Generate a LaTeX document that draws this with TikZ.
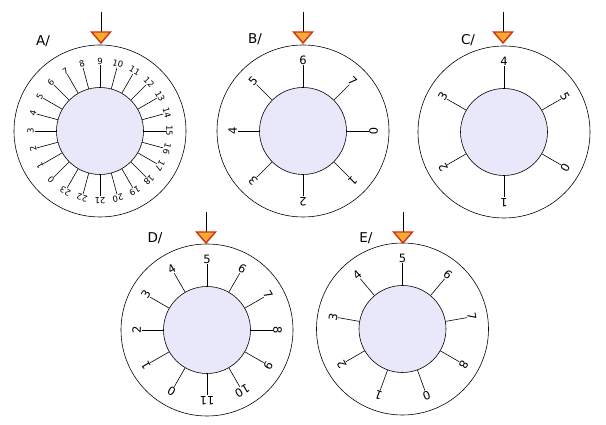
\documentclass[tikz,border=0pt]{standalone}
\usepackage{fontspec}
\setmainfont{DejaVu Sans}
\begin{document}
\begin{tikzpicture}[x=1pt,y=1pt,
  outerc/.style={draw=black,line width=0.6pt},
  innerc/.style={draw=black,line width=0.6pt,fill=lav},
  tick/.style={draw=black,line width=0.6pt},
  lbl/.style={anchor=south,inner sep=0.5pt},
  ttl/.style={font=\fontsize{13.5}{13.5}\selectfont},
  arrowtri/.style={draw=arrred,line width=1.4pt,fill=arrorange,line join=miter}]
\definecolor{lav}{RGB}{232,232,250}
\definecolor{arrred}{RGB}{204,52,18}
\definecolor{arrorange}{RGB}{249,170,50}
\useasboundingbox (0,0) rectangle (606,425);
% #1 cx, #2 cy, #3 n, #4 top label, #5 font size, #6 name
\newcommand\mydial[6]{%
  \node[circle,outerc,minimum size=172pt,inner sep=0pt] (#6o) at (#1,#2) {};
  \foreach \i in {0,...,\numexpr#3-1\relax}{
    \pgfmathsetmacro\ang{90-(\i-#4)*360/#3}
    \draw[tick] (#1,#2) ++(\ang:43.5) -- ++(\ang:22) coordinate (#6t\i);
    \node[lbl,rotate=\ang-90,font=\fontsize{#5}{#5}\selectfont] (#6l\i) at (#6t\i) {\i};
  }
  \node[circle,innerc,minimum size=87pt,inner sep=0pt] (#6i) at (#1,#2) {};
}
\newcommand\myarrow[3]{%
  \coordinate (#3s) at (#1,#2);
  \coordinate (#3b) at (#1,#2-20);
  \draw[line width=0.7pt] (#3s) -- (#3b);
  \draw[arrowtri] (#1-9.5,#2-20) -- (#1+9.5,#2-20) -- (#1,#2-31) -- cycle;
}
\mydial{100}{294}{24}{9}{8.5}{A}
\mydial{303}{294}{8}{6}{11.5}{B}
\mydial{504}{293}{6}{4}{11.5}{C}
\mydial{207}{95}{12}{5}{11.5}{D}
\mydial{402.5}{96}{9}{5}{11.5}{E}
\myarrow{101}{413}{aA}
\myarrow{303}{413}{aB}
\myarrow{503}{413}{aC}
\myarrow{206}{213}{aD}
\myarrow{403}{213}{aE}
\node[ttl] (tA) at (43,384) {A/};
\node[ttl] (tB) at (255,386) {B/};
\node[ttl] (tC) at (468,385) {C/};
\node[ttl] (tD) at (155,187) {D/};
\node[ttl] (tE) at (366,187) {E/};
\end{tikzpicture}
\end{document}
